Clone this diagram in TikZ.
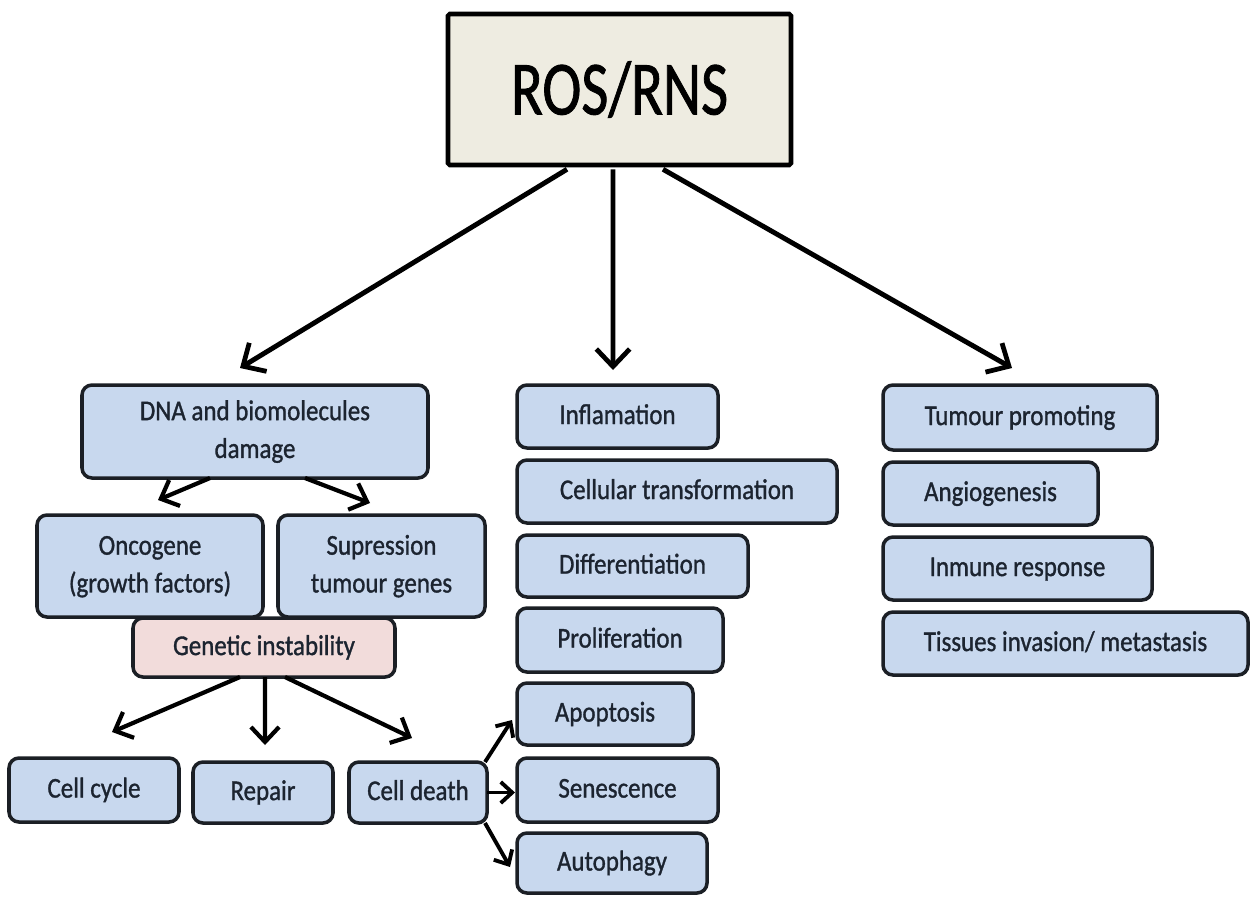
\documentclass[tikz,border=0pt]{standalone}
\usepackage{fontspec}
\setmainfont{Carlito}[RawFeature={embolden=1.2}]
\usepackage{graphicx}
\usetikzlibrary{arrows.meta,positioning}
\definecolor{boxblue}{HTML}{C8D8EE}
\definecolor{boxpink}{HTML}{F2DCDB}
\definecolor{boxbeige}{HTML}{EEECE1}
\definecolor{edge}{HTML}{1B1F25}
\definecolor{ink}{HTML}{1C2430}
\newcommand\tx[1]{\scalebox{1}[1.15]{\fontsize{14.2}{18.7}\selectfont\begin{tabular}{@{}c@{}}#1\end{tabular}}}
\newcommand\bx[7]{\node[#7, minimum width={(#4-#2)*0.02cm}, minimum height={(#5-#3)*0.02cm}] (#1) at ({(#2+#4)/2},{(#3+#5)/2}) {\tx{#6}};}
\tikzset{
  box/.style={draw=edge, line width=2pt, rounded corners=0.2cm, fill=boxblue, text=ink, inner sep=0pt, outer sep=0pt},
  pinkbox/.style={box, fill=boxpink},
  bigarr/.style={draw=black, line width=2.8pt, -{Straight Barb[length=10pt,width=19pt,line width=2.7pt]}},
  midarr/.style={draw=black, line width=2.4pt, -{Straight Barb[length=8.5pt,width=16pt,line width=2.4pt]}},
  smallarr/.style={draw=black, line width=2.2pt, -{Straight Barb[length=6.5pt,width=12pt,line width=2.2pt]}},
}
\begin{document}
\begin{tikzpicture}[x=0.02cm,y=-0.02cm]
\useasboundingbox[fill=white] (0,0) rectangle (1250,896);
% top node
\node[draw=black, line width=2.6pt, fill=boxbeige, minimum width={343*0.02cm}, minimum height={151*0.02cm}, inner sep=0pt, rounded corners=1pt] (ros) at (619.5,89.5) {\raisebox{-9pt}{\scalebox{1}[1.3]{\fontsize{33.5}{40}\selectfont ROS/RNS}}};
% left branch
\bx{dna}{82}{385}{428}{478}{DNA and biomolecules\\damage}{box}
\bx{onco}{37}{515}{263}{617}{Oncogene\\(growth factors)}{box}
\bx{supr}{278}{515}{485}{617}{Supression\\tumour genes}{box}
\bx{gen}{133}{618}{395}{677}{Genetic instability}{pinkbox}
\bx{ccyc}{9}{758}{179}{822}{Cell cycle}{box}
\bx{rep}{193}{762}{333}{823}{Repair}{box}
\bx{cdeath}{349}{762}{487}{823}{Cell death}{box}
\bx{apo}{517}{683}{693}{745}{Apoptosis}{box}
\bx{sen}{517}{758}{718}{822}{Senescence}{box}
\bx{aut}{517}{833}{707}{893}{Autophagy}{box}
% middle column
\bx{infl}{517}{385}{718}{448}{Inflamation}{box}
\bx{ctr}{517}{460}{837}{523}{Cellular transformation}{box}
\bx{diff}{517}{535}{748}{597}{Differentiation}{box}
\bx{prol}{517}{608}{723}{672}{Proliferation}{box}
% right column
\bx{tum}{883}{385}{1157}{450}{Tumour promoting}{box}
\bx{ang}{883}{462}{1098}{525}{Angiogenesis}{box}
\bx{imm}{883}{537}{1152}{600}{Inmune response}{box}
\bx{tis}{883}{612}{1248}{675}{Tissues invasion/ metastasis}{box}
% arrows from ROS/RNS
\draw[bigarr] ([xshift=-1.05cm,yshift=-0.04cm]ros.south) -- ([xshift=-0.3cm,yshift=0.34cm]dna.north);
\draw[bigarr] ([xshift=-0.13cm,yshift=-0.04cm]ros.south) -- ([xshift=-0.09cm,yshift=0.3cm]infl.north);
\draw[bigarr] ([xshift=0.87cm,yshift=-0.04cm]ros.south) -- ([xshift=-0.16cm,yshift=0.34cm]tum.north);
% DNA damage branches
\draw[midarr] ([xshift=-0.9cm]dna.south) -- ([xshift=0.16cm,yshift=0.3cm]onco.north);
\draw[midarr] ([xshift=1.0cm]dna.south) -- ([xshift=-0.23cm,yshift=0.24cm]supr.north);
% genetic instability
\draw[midarr] ([xshift=-0.48cm]gen.south) -- ([xshift=0.36cm,yshift=0.52cm]ccyc.north);
\draw[midarr] ([xshift=0.02cm]gen.south) -- ([xshift=0.04cm,yshift=0.34cm]rep.north);
\draw[midarr] ([xshift=0.42cm]gen.south) -- ([xshift=-0.12cm,yshift=0.48cm]cdeath.north);
% cell death
\draw[smallarr] ([xshift=-0.04cm]cdeath.north east) -- ([xshift=-0.1cm,yshift=-0.12cm]apo.west);
\draw[smallarr] (cdeath.east) -- ([xshift=-0.04cm]cdeath.east -| sen.west);
\draw[smallarr] ([xshift=-0.04cm]cdeath.south east) -- ([xshift=-0.14cm,yshift=-0.08cm]aut.west);
\end{tikzpicture}
\end{document}
